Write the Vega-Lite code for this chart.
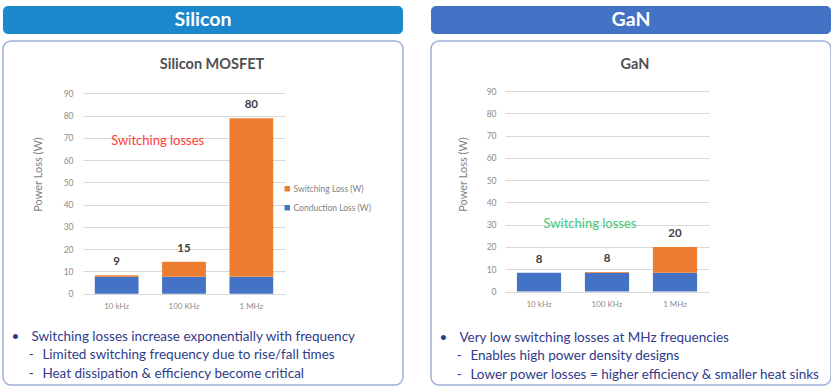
{
  "$schema": "https://vega.github.io/schema/vega-lite/v6.json",
  "background": "white",
  "padding": {"left": 2, "top": 6, "right": 0, "bottom": 0},
  "config": {
    "font": "Lato",
    "view": {"stroke": null},
    "axis": {"labelFont": "Lato", "titleFont": "Lato"},
    "legend": {"labelFont": "Lato"},
    "title": {"font": "Lato"},
    "axisY": {
      "values": [0, 10, 20, 30, 40, 50, 60, 70, 80, 90], "labelOverlap": false, "grid": true, "gridColor": "#d9d9d9", "gridWidth": 1,
      "domain": false, "ticks": false, "labelPadding": 4, "labelFontSize": 8.5, "labelColor": "#8c8c8c",
      "titleFontSize": 11, "titleFontWeight": "normal", "titleColor": "#7f7f7f",
      "titleY": 133, "titleAngle": -90, "titleAlign": "center", "titleBaseline": "middle"
    }
  },
  "datasets": {
    "si": [
      {"freq": "10 kHz", "type": "Conduction Loss (W)", "value": 7.6, "label": 9},
      {"freq": "10 kHz", "type": "Switching Loss (W)", "value": 0.7, "label": 9},
      {"freq": "100 KHz", "type": "Conduction Loss (W)", "value": 7.6, "label": 15},
      {"freq": "100 KHz", "type": "Switching Loss (W)", "value": 6.8, "label": 15},
      {"freq": "1 MHz", "type": "Conduction Loss (W)", "value": 7.6, "label": 80},
      {"freq": "1 MHz", "type": "Switching Loss (W)", "value": 71.2, "label": 80}
    ],
    "gan": [
      {"freq": "10 kHz", "type": "Conduction Loss (W)", "value": 8.4, "label": 8},
      {"freq": "10 kHz", "type": "Switching Loss (W)", "value": 0, "label": 8},
      {"freq": "100 KHz", "type": "Conduction Loss (W)", "value": 8.4, "label": 8},
      {"freq": "100 KHz", "type": "Switching Loss (W)", "value": 0.3, "label": 8},
      {"freq": "1 MHz", "type": "Conduction Loss (W)", "value": 8.4, "label": 20},
      {"freq": "1 MHz", "type": "Switching Loss (W)", "value": 11.6, "label": 20}
    ]
  },
  "spacing": 26,
  "hconcat": [
    {
      "spacing": 6,
      "vconcat": [
        {
          "width": 400,
          "height": 28,
          "view": {"fill": "#1b87cd", "stroke": null, "cornerRadius": 5},
          "data": {"values": [{"panel": "Silicon"}]},
          "mark": {"type": "text", "color": "white", "fontSize": 19.5, "fontWeight": "bold", "font": "Lato"},
          "encoding": {"text": {"field": "panel"}}
        },
        {
          "width": 400,
          "height": 344,
          "view": {"fill": "white", "stroke": "#9fb0d8", "strokeWidth": 1.5, "cornerRadius": 8},
          "title": {"text": "Silicon MOSFET", "offset": -38, "baseline": "middle", "dx": 9, "fontSize": 14.5, "fontWeight": "bold", "color": "#505050", "anchor": "middle", "frame": "group"},
          "data": {"name": "si"},
          "layer": [
            {
              "mark": {"type": "bar"},
              "encoding": {
                "x": {
                  "field": "freq", "type": "nominal",
                  "scale": {"domain": ["10 kHz", "100 KHz", "1 MHz"], "range": [80, 282], "paddingInner": 0.35, "paddingOuter": 0.175},
                  "axis": {
                    "orient": "bottom", "offset": -91.3, "labelPadding": 9, "domain": false, "ticks": false, "grid": false,
                    "labelFontSize": 8, "labelColor": "#8c8c8c", "labelAngle": 0,
                    "title": ["\u200b•\u00a0\u00a0\u00a0\u2009Switching losses increase exponentially with frequency", "\u200b\u00a0\u00a0\u00a0\u00a0\u00a0-\u00a0\u00a0\u2009Limited switching frequency due to rise/fall times", "\u200b\u00a0\u00a0\u00a0\u00a0\u00a0-\u00a0\u00a0\u2009Heat dissipation & efficiency become critical"],
                    "titleX": 8, "titleY": 42.3, "titleAnchor": "start", "titleAlign": "left", "titleBaseline": "middle",
                    "titleFontSize": 13.5, "titleFontWeight": "normal", "titleColor": "#2f3b8a", "titleLineHeight": 18.5
                  }
                },
                "y": {
                  "field": "value", "type": "quantitative", "stack": "zero",
                  "scale": {"domain": [0, 90], "range": [252.7, 52.3], "nice": false, "zero": false},
                  "axis": {"offset": -74, "title": "Power Loss (W)", "titleX": -38.5}
                },
                "color": {
                  "field": "type", "type": "nominal",
                  "scale": {"domain": ["Switching Loss (W)", "Conduction Loss (W)"], "range": ["#ed7d31", "#4472c4"]},
                  "legend": {"orient": "none", "legendX": 280, "legendY": 178.5, "title": null, "symbolType": "square", "symbolSize": 30, "symbolStrokeWidth": 0, "labelFontSize": 8.5, "labelColor": "#7f7f7f", "labelOffset": 2, "rowPadding": 10, "padding": 0}
                },
                "order": {"field": "type", "type": "nominal", "sort": "ascending"}
              }
            },
            {
              "transform": [{"aggregate": [{"op": "sum", "field": "value", "as": "top"}, {"op": "max", "field": "label", "as": "label"}], "groupby": ["freq"]}],
              "mark": {"type": "text", "fontSize": 11.5, "fontWeight": "bold", "color": "#404040", "dy": -13, "baseline": "middle"},
              "encoding": {
                "x": {"field": "freq", "type": "nominal"},
                "y": {"field": "top", "type": "quantitative", "axis": {"offset": -74, "title": "Power Loss (W)", "titleX": -38.5}},
                "text": {"field": "label", "type": "quantitative"}
              }
            },
            {
              "data": {"values": [{"note": "Switching losses"}]},
              "mark": {"type": "text", "fontSize": 13, "color": "#ff3c3c", "baseline": "middle", "align": "center"},
              "encoding": {
                "x": {"datum": "100 KHz", "bandPosition": -0.1},
                "y": {"datum": 68.6, "axis": {"offset": -74, "title": "Power Loss (W)", "titleX": -38.5}},
                "text": {"field": "note"}
              }
            }
          ]
        }
      ]
    },
    {
      "spacing": 6,
      "vconcat": [
        {
          "width": 400,
          "height": 28,
          "view": {"fill": "#4472c4", "stroke": null, "cornerRadius": 5},
          "data": {"values": [{"panel": "GaN"}]},
          "mark": {"type": "text", "color": "white", "fontSize": 19.5, "fontWeight": "bold", "font": "Lato"},
          "encoding": {"text": {"field": "panel"}}
        },
        {
          "width": 400,
          "height": 344,
          "view": {"fill": "white", "stroke": "#9fb0d8", "strokeWidth": 1.5, "cornerRadius": 8},
          "title": {"text": "GaN", "offset": -38, "baseline": "middle", "dx": 4, "fontSize": 14.5, "fontWeight": "bold", "color": "#505050", "anchor": "middle", "frame": "group"},
          "data": {"name": "gan"},
          "layer": [
            {
              "mark": {"type": "bar"},
              "encoding": {
                "x": {
                  "field": "freq", "type": "nominal",
                  "scale": {"domain": ["10 kHz", "100 KHz", "1 MHz"], "range": [74, 278], "paddingInner": 0.35, "paddingOuter": 0.175},
                  "axis": {
                    "orient": "bottom", "offset": -93.5, "labelPadding": 9, "domain": false, "ticks": false, "grid": false,
                    "labelFontSize": 8, "labelColor": "#8c8c8c", "labelAngle": 0,
                    "title": ["\u200b•\u00a0\u00a0\u00a0\u2009Very low switching losses at MHz frequencies", "\u200b\u00a0\u00a0\u00a0\u00a0\u00a0-\u00a0\u00a0\u2009Enables high power density designs", "\u200b\u00a0\u00a0\u00a0\u00a0\u00a0-\u00a0\u00a0\u2009Lower power losses = higher efficiency & smaller heat sinks"],
                    "titleX": 8, "titleY": 45.5, "titleAnchor": "start", "titleAlign": "left", "titleBaseline": "middle",
                    "titleFontSize": 13.5, "titleFontWeight": "normal", "titleColor": "#2f3b8a", "titleLineHeight": 18.5
                  }
                },
                "y": {
                  "field": "value", "type": "quantitative", "stack": "zero",
                  "scale": {"domain": [0, 90], "range": [250.5, 50], "nice": false, "zero": false},
                  "axis": {"offset": -69, "title": "Power Loss (W)", "titleX": -37}
                },
                "color": {
                  "field": "type", "type": "nominal",
                  "scale": {"domain": ["Switching Loss (W)", "Conduction Loss (W)"], "range": ["#ed7d31", "#4472c4"]},
                  "legend": {"orient": "none", "legendX": 276.5, "legendY": 178.5, "title": null, "symbolType": "square", "symbolSize": 30, "symbolStrokeWidth": 0, "labelFontSize": 8.5, "labelColor": "#7f7f7f", "labelOffset": 2, "rowPadding": 10, "padding": 0}
                },
                "order": {"field": "type", "type": "nominal", "sort": "ascending"}
              }
            },
            {
              "transform": [{"aggregate": [{"op": "sum", "field": "value", "as": "top"}, {"op": "max", "field": "label", "as": "label"}], "groupby": ["freq"]}],
              "mark": {"type": "text", "fontSize": 11.5, "fontWeight": "bold", "color": "#404040", "dy": -13, "baseline": "middle"},
              "encoding": {
                "x": {"field": "freq", "type": "nominal"},
                "y": {"field": "top", "type": "quantitative", "axis": {"offset": -69, "title": "Power Loss (W)", "titleX": -37}},
                "text": {"field": "label", "type": "quantitative"}
              }
            },
            {
              "data": {"values": [{"note": "Switching losses"}]},
              "mark": {"type": "text", "fontSize": 13, "color": "#3fc77a", "baseline": "middle", "align": "center"},
              "encoding": {
                "x": {"datum": "100 KHz", "bandPosition": 0.115},
                "y": {"datum": 30.3, "axis": {"offset": -69, "title": "Power Loss (W)", "titleX": -37}},
                "text": {"field": "note"}
              }
            }
          ]
        }
      ]
    }
  ]
}
